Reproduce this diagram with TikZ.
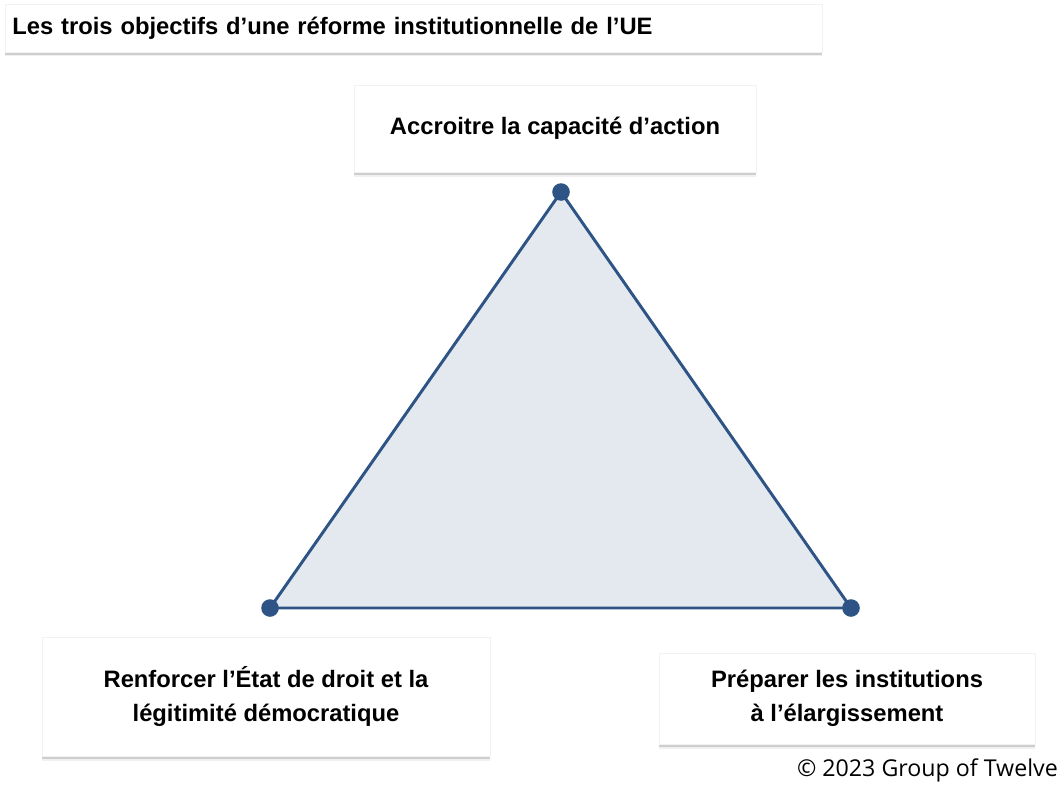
\documentclass[tikz,border=0pt]{standalone}
\usepackage{fontspec}
\setmainfont{Liberation Sans}
\newfontfamily\copyfont{Open Sans}
\usetikzlibrary{shadows}
\usetikzlibrary{positioning}
\definecolor{triFill}{HTML}{E3E9EF}
\definecolor{triLine}{HTML}{2E5486}

\begin{document}
\begin{tikzpicture}[x=0.25mm,y=-0.25mm,
			font=\bfseries\fontsize{16.9}{24}\selectfont]
			\tikzstyle{goal}=[fill=white, draw=black!5, align=center,
				drop shadow={shadow xshift=0pt, shadow yshift=-3.2pt, opacity=0.12},
				drop shadow={shadow xshift=0pt, shadow yshift=-2.2pt, opacity=0.3}]
			\tikzstyle{corner}=[circle, fill=triLine, inner sep=0pt, minimum size=4.4mm]
			\tikzstyle{side}=[draw=triLine, line width=2.1pt, fill=triFill, line join=round]

			\useasboundingbox (0,0) rectangle (1061,790);

			% title
			\node[goal, anchor=west, align=left, inner xsep=7*0.25mm,
				text width=803*0.25mm, minimum height=48*0.25mm] (title) at (5,28)
				{Les trois objectifs d’une réforme institutionnelle de l’UE};

			% the three goals
			\node[goal, minimum width=402*0.25mm, minimum height=87*0.25mm] (action) at (555,128.5)
				{Accroitre la capacité d’action};
			\node[goal, minimum width=448*0.25mm, minimum height=119*0.25mm] (droit) at (266,696.5)
				{Renforcer l’État de droit et la\\légitimité démocratique};
			\node[goal, minimum width=376*0.25mm, minimum height=91*0.25mm] (elarg) at (847,698.5)
				{Préparer les institutions\\à l’élargissement};

			% triangle
			\coordinate (A) at (561,192);
			\coordinate (B) at (270,608);
			\coordinate (C) at (851,608);
			\draw[side] (A) -- (B) -- (C) -- cycle;
			\node[corner] (a) at (A) {};
			\node[corner] (b) at (B) {};
			\node[corner] (c) at (C) {};

			\node[anchor=base east, inner sep=0pt, font=\copyfont\fontsize{16.5}{20}\selectfont] (copy) at (1058,776)
				{© 2023 Group of Twelve};
\end{tikzpicture}
\end{document}
